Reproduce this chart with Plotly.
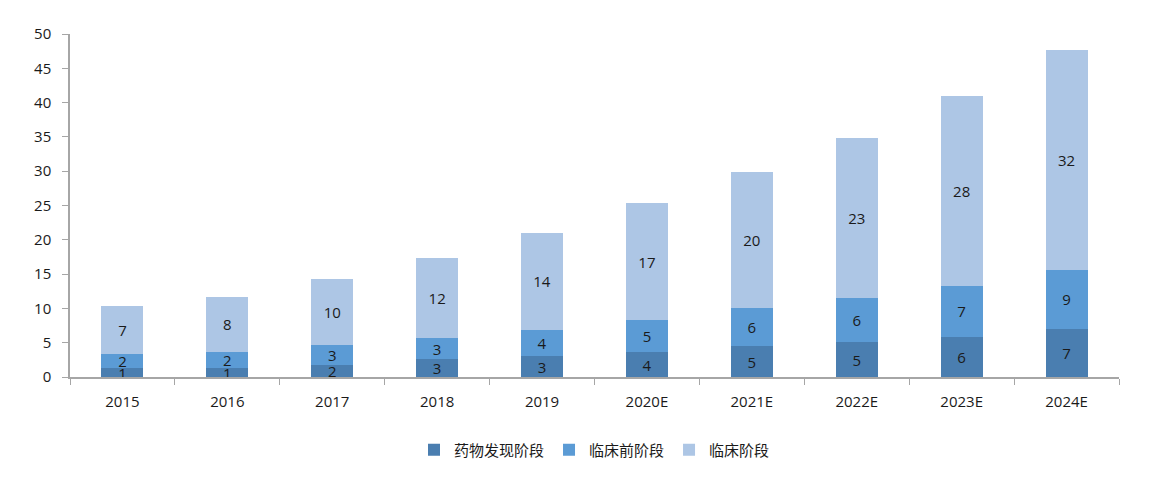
import plotly.graph_objects as go

years = ["2015", "2016", "2017", "2018", "2019", "2020E", "2021E", "2022E", "2023E", "2024E"]
discovery = [1.25, 1.3, 1.7, 2.6, 3.0, 3.6, 4.5, 5.1, 5.9, 7.0]
preclinical = [2.05, 2.4, 2.9, 3.1, 3.9, 4.7, 5.6, 6.4, 7.4, 8.6]
clinical = [7.1, 8.0, 9.7, 11.7, 14.1, 17.0, 19.8, 23.4, 27.6, 32.1]
series_names = ["药物发现阶段", "临床前阶段", "临床阶段"]
colors = ["#4a7eb0", "#5b9bd5", "#adc6e5"]
y_ticks = [0, 5, 10, 15, 20, 25, 30, 35, 40, 45, 50]

FONT = "Open Sans, Noto Sans CJK SC, sans-serif"
TXT = "#1a1a1a"

fig = go.Figure()
for name, vals, col in zip(series_names, [discovery, preclinical, clinical], colors):
    fig.add_trace(go.Bar(
        x=years, y=vals, name=name,
        marker=dict(color=col, line=dict(width=0)),
        texttemplate="%{y:.0f}", textposition="inside", textangle=0,
        insidetextanchor="middle", constraintext="none",
        textfont=dict(family=FONT, size=15, color=TXT),
    ))

fig.update_layout(
    barmode="stack",
    bargap=0.6,
    width=1153, height=490,
    margin=dict(l=70, r=34, t=34, b=113),
    paper_bgcolor="white", plot_bgcolor="white",
    font=dict(family=FONT, size=15, color=TXT),
    showlegend=True,
    legend=dict(orientation="h", x=0.5, xanchor="center", y=-0.213, yanchor="middle",
                font=dict(family=FONT, size=15, color=TXT), traceorder="normal",
                itemwidth=30),
    xaxis=dict(showline=True, linecolor="#a6a6a6", linewidth=1.5, ticks="outside",
               tickson="boundaries", ticklen=6, tickcolor="#a6a6a6",
               ticklabelstandoff=10,
               tickfont=dict(family=FONT, size=15, color=TXT), showgrid=False),
    yaxis=dict(range=[0, 50], tickvals=y_ticks, showline=True, linecolor="#a6a6a6",
               linewidth=1.5, ticks="outside", ticklen=6, tickcolor="#a6a6a6",
               ticklabelstandoff=8,
               tickfont=dict(family=FONT, size=15, color=TXT), showgrid=False,
               zeroline=False),
)

fig.write_html("out.html")
